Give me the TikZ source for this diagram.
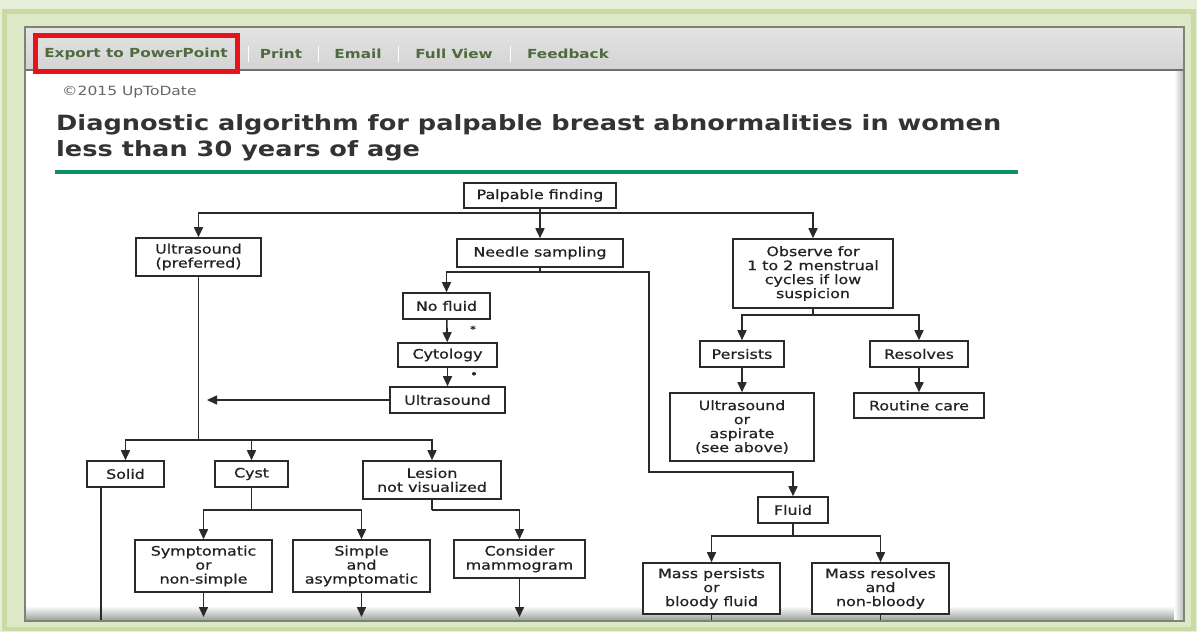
\documentclass[tikz,border=0pt]{standalone}
\usepackage{fontspec}
\setmainfont[FakeStretch=1.22]{DejaVu Sans}
\newfontfamily\bxfont[FakeStretch=1.22,FakeBold=0.7]{DejaVu Sans}
\usetikzlibrary{arrows.meta}
\definecolor{bgl}{HTML}{E6EED7}
\definecolor{frg}{HTML}{C9DAA2}
\definecolor{frl}{HTML}{DDE8C6}
\definecolor{pbord}{HTML}{7C847A}
\definecolor{tbtop}{HTML}{E4E4E4}
\definecolor{tbbot}{HTML}{D3D3D3}
\definecolor{tbline}{HTML}{6B7468}
\definecolor{tbtext}{HTML}{4F6B3E}
\definecolor{redbox}{HTML}{E8121A}
\definecolor{ttl}{HTML}{333333}
\definecolor{rule}{HTML}{0E8F5E}
\definecolor{lc}{HTML}{2A2A2A}
\definecolor{tc}{HTML}{222222}
\definecolor{cpy}{HTML}{666666}
\definecolor{shd}{HTML}{979C94}
\begin{document}
\begin{tikzpicture}[x=1pt,y=-1pt,
  box/.style={draw=lc, line width=1.6pt, fill=white, text=tc, rectangle,
    font=\bxfont\fontsize{13}{14}\selectfont, align=center, inner sep=0pt},
  wh/.style 2 args={minimum width=#1pt, minimum height=#2pt},
  arr/.style={draw=lc, line width=1.6pt, -{Triangle[length=10pt,width=9pt]}},
  ln/.style={draw=lc, line width=1.6pt},
  tb/.style={text=tbtext, font=\bfseries\fontsize{12.5}{14}\selectfont, inner sep=0pt},
  sep/.style={draw=white, line width=1pt}]
\useasboundingbox (0,0) rectangle (1197,632);
% frame
\fill[bgl] (0,0) rectangle (1197,632);
\fill[frg] (2,9) rectangle (1196,631);
\fill[frl] (7,14) rectangle (1191,627);
\fill[white] (25,27) rectangle (1184,621);
\shade[top color=white, bottom color=shd] (25,606) rectangle (1184,621);
\shade[left color=white, right color=shd!70] (1174,70) rectangle (1184,621);
\shade[top color=tbtop, bottom color=tbbot] (25,27) rectangle (1184,70);
\draw[tbline, line width=1.5pt] (25,70) -- (1184,70);
\draw[pbord, line width=2pt] (25,27) rectangle (1184,621);
% toolbar
\node[tb] (exp) at (136,54) {Export to PowerPoint};
\draw[redbox, line width=5pt] (35,35) rectangle (237,71);
\node[tb] (prt) at (281,54) {Print};
\node[tb] (eml) at (358,54) {Email};
\node[tb] (fv) at (454,54) {Full View};
\node[tb] (fb) at (568,54) {Feedback};
\foreach \sx in {248,318,398,510} \draw[sep] (\sx,46) -- (\sx,62);
% header
\node[anchor=west, text=cpy, font=\fontsize{12.7}{14}\selectfont, inner sep=0pt] (cp) at (62,92) {©2015 UpToDate};
\node[anchor=west, text=ttl, align=left, inner sep=0pt, font=\bfseries\fontsize{21}{26}\selectfont] (title) at (56,138)
  {Diagnostic algorithm for palpable breast abnormalities in women\\less than 30 years of age};
\draw[rule, line width=4pt] (55,172) -- (1018,172);
% nodes
\node[box, wh={152}{25}] (pf) at (540,195.5) {Palpable finding};
\node[box, wh={125}{38}] (us1) at (198.5,257) {Ultrasound\\(preferred)};
\node[box, wh={166}{28}] (ns) at (540,253) {Needle sampling};
\node[box, wh={160}{69}] (obs) at (813,273.5) {Observe for\\1 to 2 menstrual\\cycles if low\\suspicion};
\node[box, wh={87}{26}] (nf) at (446.5,306) {No fluid};
\node[box, wh={99}{24}] (cyt) at (447.5,355) {Cytology};
\node[box, wh={115}{26}] (us2) at (447.5,400) {Ultrasound};
\node[box, wh={77}{26}] (solid) at (125.5,474) {Solid};
\node[box, wh={73}{26}] (cyst) at (251.5,474) {Cyst};
\node[box, wh={138}{38}] (lesion) at (432,480) {Lesion\\not visualized};
\node[box, wh={137}{52}] (symp) at (203.5,566) {Symptomatic\\or\\non-simple};
\node[box, wh={137}{52}] (simple) at (361.5,566) {Simple\\and\\asymptomatic};
\node[box, wh={131}{38}] (consider) at (519.5,559) {Consider\\mammogram};
\node[box, wh={84}{26}] (persists) at (742,354) {Persists};
\node[box, wh={98}{26}] (resolves) at (919,354) {Resolves};
\node[box, wh={144}{68}] (usasp) at (742,427) {Ultrasound\\or\\aspirate\\(see above)};
\node[box, wh={130}{25}] (routine) at (919,405.5) {Routine care};
\node[box, wh={70}{26}] (fluid) at (793,510) {Fluid};
\node[box, wh={137}{51}] (mpers) at (711.5,588.5) {Mass persists\\or\\bloody fluid};
\node[box, wh={137}{51}] (mres) at (880.5,588.5) {Mass resolves\\and\\non-bloody};
\node[text=tc, font=\bxfont\fontsize{9}{10}\selectfont, inner sep=0pt] (st1) at (473,329) {*};
\node[text=tc, font=\bxfont\fontsize{11}{12}\selectfont, inner sep=0pt] (st2) at (474,375) {•};
% junctions
\coordinate (j1) at (540,213);
\coordinate (j2) at (540,272);
\coordinate (k2) at (649,472);
\coordinate (j3) at (198.5,440);
\coordinate (j4) at (251.5,510);
\coordinate (j5) at (432,510);
\coordinate (j6) at (813,315);
\coordinate (j7) at (793,536);
\coordinate (sb) at (101,620);
\coordinate (uend) at (207,400);
\coordinate (b1) at (203.5,617);
\coordinate (b2) at (361.5,617);
\coordinate (b3) at (519.5,617);
\coordinate (b4) at (711.5,620);
\coordinate (b5) at (880.5,620);
% connectors
\draw[ln] (pf) -- (j1);
\draw[arr] (j1) -| (us1.north);
\draw[arr] (j1) -- (ns);
\draw[arr] (j1) -| (obs.north);
\draw[ln] (ns) -- (j2);
\draw[arr] (j2) -| (nf.north);
\draw[arr] (j2) -| (k2) -| (fluid.north);
\draw[arr] (nf) -- (cyt);
\draw[arr] (cyt) -- (us2);
\draw[arr] (us2) -- (uend);
\draw[ln] (us1) -- (j3);
\draw[arr] (j3) -| (solid.north);
\draw[arr] (j3) -| (cyst.north);
\draw[arr] (j3) -| (lesion.north);
\draw[ln] (solid.south -| sb) -- (sb);
\draw[ln] (cyst) -- (j4);
\draw[arr] (j4) -| (symp.north);
\draw[arr] (j4) -| (simple.north);
\draw[ln] (lesion) -- (j5);
\draw[arr] (j5) -| (consider.north);
\draw[arr] (symp) -- (b1);
\draw[arr] (simple) -- (b2);
\draw[arr] (consider) -- (b3);
\draw[ln] (obs) -- (j6);
\draw[arr] (j6) -| (persists.north);
\draw[arr] (j6) -| (resolves.north);
\draw[arr] (persists) -- (usasp);
\draw[arr] (resolves) -- (routine);
\draw[ln] (fluid) -- (j7);
\draw[arr] (j7) -| (mpers.north);
\draw[arr] (j7) -| (mres.north);
\draw[ln] (mpers) -- (b4);
\draw[ln] (mres) -- (b5);
\end{tikzpicture}
\end{document}
